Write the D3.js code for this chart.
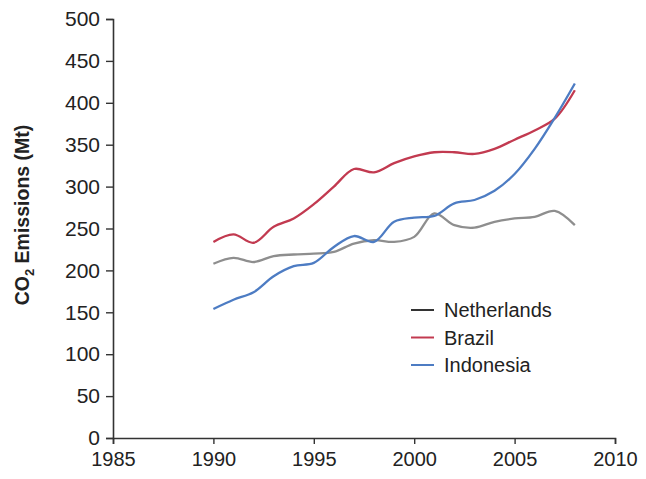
<!DOCTYPE html>
<html>
<head>
<meta charset="utf-8">
<script src="https://cdn.jsdelivr.net/npm/d3@7"></script>
<style>
  html, body { margin: 0; padding: 0; background: #fff; }
  svg { display: block; }
  text { font-family: "Liberation Sans", Arial, sans-serif; fill: #222; }
</style>
</head>
<body>
<svg id="chart" width="646" height="479"></svg>
<script>
// Annual CO2 emissions (Mt), 1990–2008
const years = [1990, 1991, 1992, 1993, 1994, 1995, 1996, 1997, 1998, 1999,
               2000, 2001, 2002, 2003, 2004, 2005, 2006, 2007, 2008];
const netherlands = [208, 215, 210, 217, 219, 220, 222, 232, 236, 234,
                     240, 268, 254, 251, 258, 262, 264, 271, 254];
const brazil = [234, 243, 233, 252, 262, 279, 300, 321, 317, 328,
                336, 341, 341, 339, 345, 356, 367, 381, 415];
const indonesia = [154, 165, 174, 193, 205, 209, 228, 241, 234, 258,
                   263, 265, 280, 284, 295, 315, 345, 382, 423];

const xTicks = [1985, 1990, 1995, 2000, 2005, 2010];
const yTicks = [0, 50, 100, 150, 200, 250, 300, 350, 400, 450, 500];

const series = [
  { name: "Netherlands", values: netherlands, color: "#8e8e8e", key: "#333333" },
  { name: "Brazil", values: brazil, color: "#c23a50", key: "#c23a50" },
  { name: "Indonesia", values: indonesia, color: "#4d7cc3", key: "#4d7cc3" }
];

const svg = d3.select("#chart");
const margin = { left: 113, top: 19, right: 31, bottom: 41 };
const width = 646 - margin.left - margin.right;
const height = 479 - margin.top - margin.bottom;

const g = svg.append("g").attr("transform", `translate(${margin.left},${margin.top})`);

const x = d3.scaleLinear().domain([1985, 2010]).range([0, width]);
const y = d3.scaleLinear().domain([0, 500]).range([height, 0]);

// Axes
const xAxis = g.append("g")
  .attr("transform", `translate(0,${height})`)
  .call(d3.axisBottom(x).tickValues(xTicks).tickFormat(d3.format("d")).tickSize(6).tickPadding(8));
const yAxis = g.append("g")
  .call(d3.axisLeft(y).tickValues(yTicks).tickSize(7).tickPadding(6));

[xAxis, yAxis].forEach(a => {
  a.select(".domain").attr("stroke", "#333").attr("stroke-width", 1.6);
  a.selectAll(".tick line").attr("stroke", "#333").attr("stroke-width", 1.4);
});
xAxis.selectAll("text").attr("font-size", 20).style("fill", "#222");
yAxis.selectAll("text").attr("font-size", 21).style("fill", "#222");

// Y axis title with subscript
const title = svg.append("text")
  .attr("transform", `translate(29,${215}) rotate(-90)`)
  .attr("text-anchor", "middle")
  .attr("font-size", 19.5)
  .attr("font-weight", "bold");
title.append("tspan").text("CO");
title.append("tspan").attr("font-size", 13).attr("dy", 5).text("2");
title.append("tspan").attr("dy", -5).text(" Emissions (Mt)");

// Lines
const line = d3.line()
  .x((d, i) => x(years[i]))
  .y(d => y(d))
  .curve(d3.curveCatmullRom.alpha(0.5));

g.selectAll(".series")
  .data(series)
  .join("path")
  .attr("class", "series")
  .attr("fill", "none")
  .attr("stroke", d => d.color)
  .attr("stroke-width", 2.3)
  .attr("stroke-linejoin", "round")
  .attr("d", d => line(d.values));

// Legend
const legend = svg.append("g").attr("transform", "translate(411,310)");
const rows = legend.selectAll("g")
  .data(series)
  .join("g")
  .attr("transform", (d, i) => `translate(0,${i * 27.5})`);
rows.append("line")
  .attr("x1", 0).attr("x2", 23)
  .attr("stroke", d => d.key)
  .attr("stroke-width", 2);
rows.append("text")
  .attr("x", 33)
  .attr("dy", "0.36em")
  .attr("font-size", 20)
  .text(d => d.name);
</script>
</body>
</html>
